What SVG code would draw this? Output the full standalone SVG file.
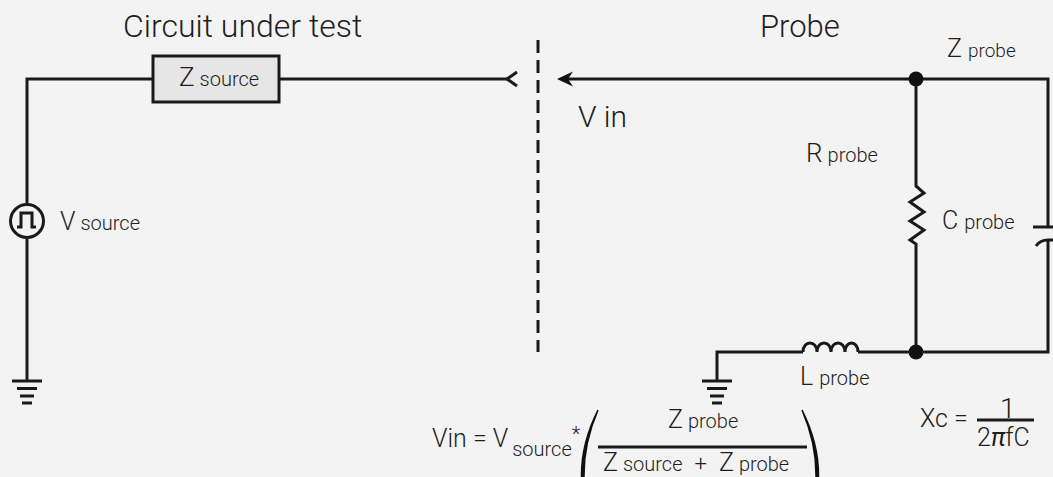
<svg xmlns="http://www.w3.org/2000/svg" width="1053" height="477" viewBox="0 0 1053 477">
<style>
.w{fill:none;stroke:#1a1a1a;stroke-width:3;stroke-linejoin:miter;stroke-linecap:butt}
.t{font-family:Roboto,"Liberation Sans",sans-serif;font-weight:300;fill:#1e1e1e}
.dot{fill:#111}
</style>
<rect width="1053" height="477" fill="#f3f3f3"/>
<g id="connectors">
<path class="w" d="M27,203 V79 H153"/>
<path class="w" d="M27,239 V381"/>
<path class="w" d="M279,79 H508"/>
<path class="w" d="M517,72 L507,79 L517,86"/>
<path class="w" d="M538,40 V352" stroke-dasharray="13 7"/>
<path class="w" d="M568,79 H1048 V227"/>
<path d="M557,79 L573,71.5 L568,79 L573,86.5 Z" fill="#111"/>
<path class="w" d="M916,79 V186 L924,193 L910,202 L924,212 L910,221 L924,230 L910,240 L916,244 V352"/>
<path class="w" d="M1048,241 V352 H858"/>
<path class="w" d="M803,352 H717 V381"/>
</g>
<g id="source">
<circle cx="27" cy="221" r="16.5" fill="#f3f3f3" stroke="#1a1a1a" stroke-width="3"/>
<path class="w" d="M17,227 H21 V213 H32 V227 H36"/>
<text class="t" x="60" y="230" font-size="25">V<tspan font-size="20" dx="5">source</tspan></text>
</g>
<g id="ground-left">
<path class="w" d="M12,381 H42 M17,388.5 H37 M20,396 H34 M22,403 H32"/>
</g>
<g id="zsource">
<rect x="153" y="56" width="126" height="46" fill="#e6e6e6" stroke="#1a1a1a" stroke-width="3"/>
<text class="t" x="179" y="86" font-size="26">Z<tspan font-size="20" dx="5">source</tspan></text>
</g>
<g id="titles">
<text class="t" x="123" y="37" font-size="32">Circuit under test</text>
<text class="t" x="760" y="37" font-size="31">Probe</text>
<text class="t" x="578" y="127" font-size="30">V in</text>
</g>
<g id="zprobe">
<text class="t" x="947" y="57" font-size="25">Z<tspan font-size="19" dx="6">probe</tspan></text>
</g>
<g id="nodes">
<circle class="dot" cx="916" cy="79" r="7.5"/>
<circle class="dot" cx="916" cy="352" r="7.5"/>
</g>
<g id="rprobe">
<text class="t" x="806" y="162" font-size="26">R<tspan font-size="20" dx="5">probe</tspan></text>
</g>
<g id="cprobe">
<path class="w" d="M1033,227 H1053"/>
<path class="w" d="M1036,246 Q1040,240 1048,240 H1053"/>
<text class="t" x="942" y="229" font-size="25">C<tspan font-size="20" dx="6">probe</tspan></text>
</g>
<g id="lprobe">
<path class="w" d="M803,352 C803,340 817,340 817,352 C817,340 831,340 831,352 C831,340 845,340 845,352 C845,340 858,340 858,352"/>
<text class="t" x="800" y="385" font-size="25">L<tspan font-size="20" dx="6">probe</tspan></text>
</g>
<g id="ground-right">
<path class="w" d="M702,381 H732 M707,388.5 H727 M710,396 H724 M712,403 H722"/>
</g>
<g id="formula">
<text class="t" x="432" y="447" font-size="25">Vin = V<tspan font-size="20" dx="4" dy="9">source</tspan><tspan font-size="20" dy="-15">*</tspan></text>
<path d="M598,410 Q565,475 598,540 Q570,475 598,410 Z" fill="#111" stroke="#111" stroke-width="1.5"/>
<path d="M802,410 Q835,475 802,540 Q830,475 802,410 Z" fill="#111" stroke="#111" stroke-width="1.5"/>
<path class="w" d="M598,447 H807"/>
<text class="t" x="668" y="428" font-size="25">Z<tspan font-size="20" dx="5">probe</tspan></text>
<text class="t" x="603" y="471" font-size="25">Z<tspan font-size="20" dx="5">source</tspan><tspan font-size="22" dx="12">+</tspan><tspan dx="12">Z</tspan><tspan font-size="20" dx="5">probe</tspan></text>
</g>
<g id="xc">
<text class="t" x="920" y="427" font-size="25">Xc =</text>
<text class="t" x="1000" y="418" font-size="28">1</text>
<path class="w" d="M977,420 H1034"/>
<text class="t" x="977" y="446" font-size="25">2<tspan font-style="italic" font-weight="400">π</tspan>fC</text>
</g>
</svg>
